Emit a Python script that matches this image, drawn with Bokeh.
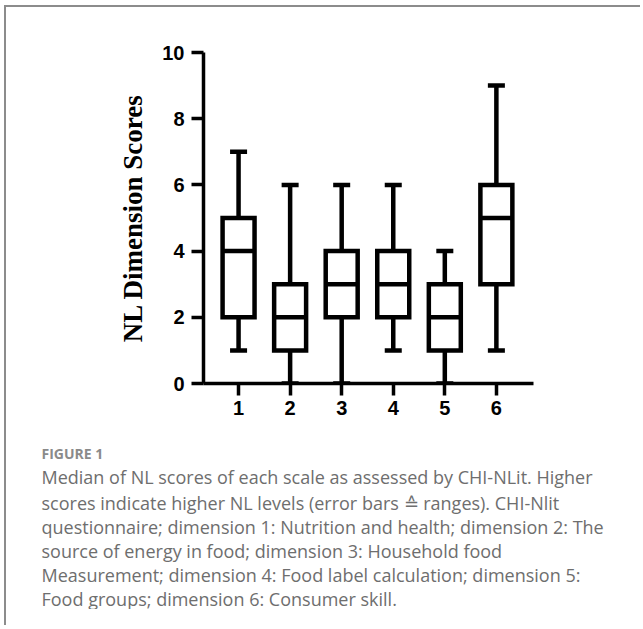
from bokeh.plotting import figure
from bokeh.models import Range1d, FixedTicker, Title
from bokeh.embed import file_html
from bokeh.resources import INLINE

# ---- data ----
dims = ["1", "2", "3", "4", "5", "6"]
positions = [1, 2, 3, 4, 5, 6]
mins = [1, 0, 0, 1, 0, 1]
q1 = [2, 1, 2, 2, 1, 3]
medians = [4, 2, 3, 3, 2, 5]
q3 = [5, 3, 4, 4, 3, 6]
maxs = [7, 6, 6, 6, 4, 9]
yticks = [0, 2, 4, 6, 8, 10]

caption_title = "FIGURE 1"
caption_lines = [
    "Median of NL scores of each scale as assessed by CHI-NLit. Higher",
    "scores indicate higher NL levels (error bars \u2259 ranges). CHI-Nlit",
    "questionnaire; dimension 1: Nutrition and health; dimension 2: The",
    "source of energy in food; dimension 3: Household food",
    "Measurement; dimension 4: Food label calculation; dimension 5:",
    "Food groups; dimension 6: Consumer skill.",
]

# ---- layout constants ----
X0, X1 = 0.32, 6.72
Y0, Y1 = 0, 10
BL, BT, FW, FH = 197, 45, 330, 331
BR = 107

p = figure(
    x_range=Range1d(X0, X1), y_range=Range1d(Y0, Y1),
    frame_width=FW, frame_height=FH,
    min_border_left=BL, min_border_top=BT, min_border_right=BR, min_border_bottom=0,
    output_backend="svg", toolbar_location=None,
    background_fill_color="white", border_fill_color="white",
)
p.margin = (5, 0, 0, 4)
p.styles = {"border-top": "2px solid #8c8c8c", "border-left": "2px solid #8c8c8c",
            "min-height": "620px"}
p.outline_line_color = None
p.xgrid.visible = False
p.ygrid.visible = False

hw = 0.31
cw = 0.165
lw = 4.5
left = [x - hw for x in positions]
right = [x + hw for x in positions]
cl = [x - cw for x in positions]
cr = [x + cw for x in positions]

# whiskers
p.segment(x0=positions, x1=positions, y0=q3, y1=maxs, line_color="black", line_width=lw)
p.segment(x0=positions, x1=positions, y0=mins, y1=q1, line_color="black", line_width=lw)
p.segment(x0=cl, x1=cr, y0=maxs, y1=maxs, line_color="black", line_width=lw)
p.segment(x0=cl, x1=cr, y0=mins, y1=mins, line_color="black", line_width=lw)
# boxes
p.quad(left=left, right=right, bottom=q1, top=q3, fill_color="white",
       line_color="black", line_width=lw, line_join="miter")
p.segment(x0=left, x1=right, y0=medians, y1=medians, line_color="black", line_width=lw)

for ax in (p.xaxis[0], p.yaxis[0]):
    ax.axis_line_width = 3.5
    ax.axis_line_color = "black"
    ax.major_tick_line_width = 3.5
    ax.major_tick_line_color = "black"
    ax.major_tick_in = 0
    ax.major_tick_out = 12
    ax.minor_tick_line_color = None
    ax.major_label_text_font = "Liberation Sans"
    ax.major_label_text_font_style = "bold"
    ax.major_label_text_font_size = "20px"
    ax.major_label_text_color = "black"

p.yaxis.ticker = FixedTicker(ticks=yticks)
p.yaxis.major_label_standoff = 7
p.yaxis.axis_label = "NL Dimension Scores"
p.yaxis.axis_label_text_font = "Liberation Serif"
p.yaxis.axis_label_text_font_style = "bold"
p.yaxis.axis_label_text_font_size = "27px"
p.yaxis.axis_label_text_color = "black"
p.yaxis.axis_label_standoff = 11

p.xaxis.ticker = FixedTicker(ticks=positions)
p.xaxis.major_label_overrides = {pos: lab for pos, lab in zip(positions, dims)}
p.xaxis.major_label_standoff = 5

# ---- caption (titles below the chart) ----
CAP_OFFSET = 41 - 6 - BL
# blank spacer between the axis and the caption
p.add_layout(Title(text=" ", text_font_size="10px", standoff=11), "below")
p.add_layout(Title(text=caption_title, align="left", offset=CAP_OFFSET,
                   text_font="Open Sans", text_font_style="bold",
                   text_font_size="14px", text_color="#8a8a8a", standoff=0), "below")
for i, line in enumerate(caption_lines):
    p.add_layout(Title(text=line, align="left", offset=CAP_OFFSET,
                       text_font="Open Sans", text_font_style="normal",
                       text_font_size="18px", text_color="#6e6e6e",
                       standoff=1 if i == 0 else -2), "below")

open("out.html", "w").write(file_html(p, INLINE))
